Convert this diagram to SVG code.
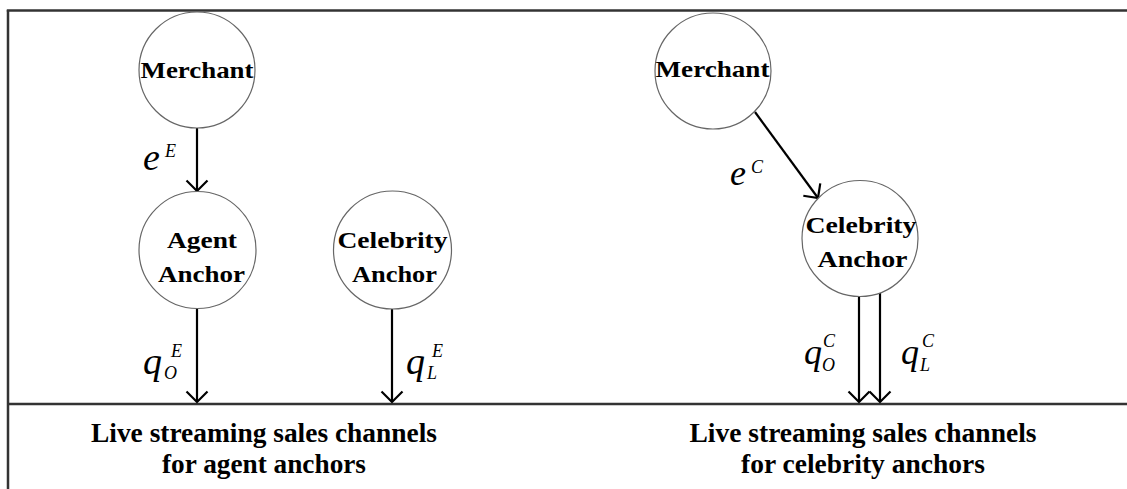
<svg xmlns="http://www.w3.org/2000/svg" width="1127" height="489" viewBox="0 0 1127 489">
<style>
.node{fill:#fff;stroke:#666;stroke-width:1.2}
.lbl{font-family:"Liberation Serif","Times New Roman",serif;font-weight:bold;font-size:24px;fill:#000;text-anchor:middle}
.big{font-family:"Liberation Serif","Times New Roman",serif;font-weight:bold;font-size:27px;fill:#000;text-anchor:middle}
.m{font-family:"Liberation Serif","Times New Roman",serif;font-style:italic;fill:#000}
.conn{stroke:#000;stroke-width:2.2;fill:none;marker-end:url(#arr)}
.frame{stroke:#333;stroke-width:2.5;fill:none}
</style>
<defs>
<marker id="arr" markerUnits="userSpaceOnUse" markerWidth="26" markerHeight="26" refX="12" refY="12" orient="auto">
<path d="M1.5,1.5 L12,12 L1.5,22.5" fill="none" stroke="#000" stroke-width="2.2"/>
</marker>
</defs>
<rect width="1127" height="489" fill="#fff"/>
<g id="frame">
<line class="frame" x1="6.8" y1="10.5" x2="1127" y2="10.5"/>
<line class="frame" x1="8" y1="10" x2="8" y2="489"/>
<line class="frame" x1="8" y1="404" x2="1127" y2="404"/>
</g>
<g id="connectors">
<line class="conn" x1="197" y1="128" x2="197" y2="191"/>
<line class="conn" x1="197" y1="308" x2="197" y2="402"/>
<line class="conn" x1="392" y1="309" x2="392" y2="402"/>
<line class="conn" x1="755" y1="112" x2="818" y2="198"/>
<line class="conn" x1="859" y1="297" x2="859" y2="402"/>
<line class="conn" x1="880" y1="293" x2="880" y2="402"/>
</g>
<g id="labels">
<text class="m" x="143" y="170" font-size="38">e</text>
<text class="m" x="165" y="157" font-size="18">E</text>
<text class="m" x="143" y="374" font-size="38">q</text>
<text class="m" x="164" y="379" font-size="18">O</text>
<text class="m" x="171" y="357" font-size="18">E</text>
<text class="m" x="406" y="374" font-size="38">q</text>
<text class="m" x="427" y="379" font-size="18">L</text>
<text class="m" x="432" y="357" font-size="18">E</text>
<text class="m" x="730" y="185" font-size="36">e</text>
<text class="m" x="751" y="173" font-size="18">C</text>
<text class="m" x="804" y="364" font-size="36">q</text>
<text class="m" x="822" y="371" font-size="18">O</text>
<text class="m" x="823" y="347" font-size="18">C</text>
<text class="m" x="901" y="364" font-size="36">q</text>
<text class="m" x="920" y="371" font-size="18">L</text>
<text class="m" x="922" y="347" font-size="18">C</text>
</g>
<g id="merchant-left">
<circle class="node" cx="197" cy="70" r="58"/>
<text class="lbl" x="197" y="78" textLength="113" lengthAdjust="spacingAndGlyphs">Merchant</text>
</g>
<g id="agent-anchor">
<circle class="node" cx="197.5" cy="250" r="58.5"/>
<text class="lbl" x="202" y="248" textLength="70" lengthAdjust="spacingAndGlyphs">Agent</text>
<text class="lbl" x="201.5" y="282" textLength="87" lengthAdjust="spacingAndGlyphs">Anchor</text>
</g>
<g id="celebrity-anchor-left">
<circle class="node" cx="392.5" cy="250" r="59"/>
<text class="lbl" x="392.5" y="248" textLength="110" lengthAdjust="spacingAndGlyphs">Celebrity</text>
<text class="lbl" x="394.5" y="282" textLength="85" lengthAdjust="spacingAndGlyphs">Anchor</text>
</g>
<g id="merchant-right">
<circle class="node" cx="713" cy="71" r="58"/>
<text class="lbl" x="712.5" y="77" textLength="114" lengthAdjust="spacingAndGlyphs">Merchant</text>
</g>
<g id="celebrity-anchor-right">
<circle class="node" cx="860" cy="238.5" r="58"/>
<text class="lbl" x="861" y="233" textLength="111" lengthAdjust="spacingAndGlyphs">Celebrity</text>
<text class="lbl" x="862.5" y="267" textLength="90" lengthAdjust="spacingAndGlyphs">Anchor</text>
</g>
<g id="channel-agent">
<text class="big" x="264" y="442" textLength="346" lengthAdjust="spacingAndGlyphs">Live streaming sales channels</text>
<text class="big" x="264" y="473" textLength="204" lengthAdjust="spacingAndGlyphs">for agent anchors</text>
</g>
<g id="channel-celebrity">
<text class="big" x="863" y="442" textLength="347" lengthAdjust="spacingAndGlyphs">Live streaming sales channels</text>
<text class="big" x="863" y="473" textLength="244" lengthAdjust="spacingAndGlyphs">for celebrity anchors</text>
</g>
</svg>
